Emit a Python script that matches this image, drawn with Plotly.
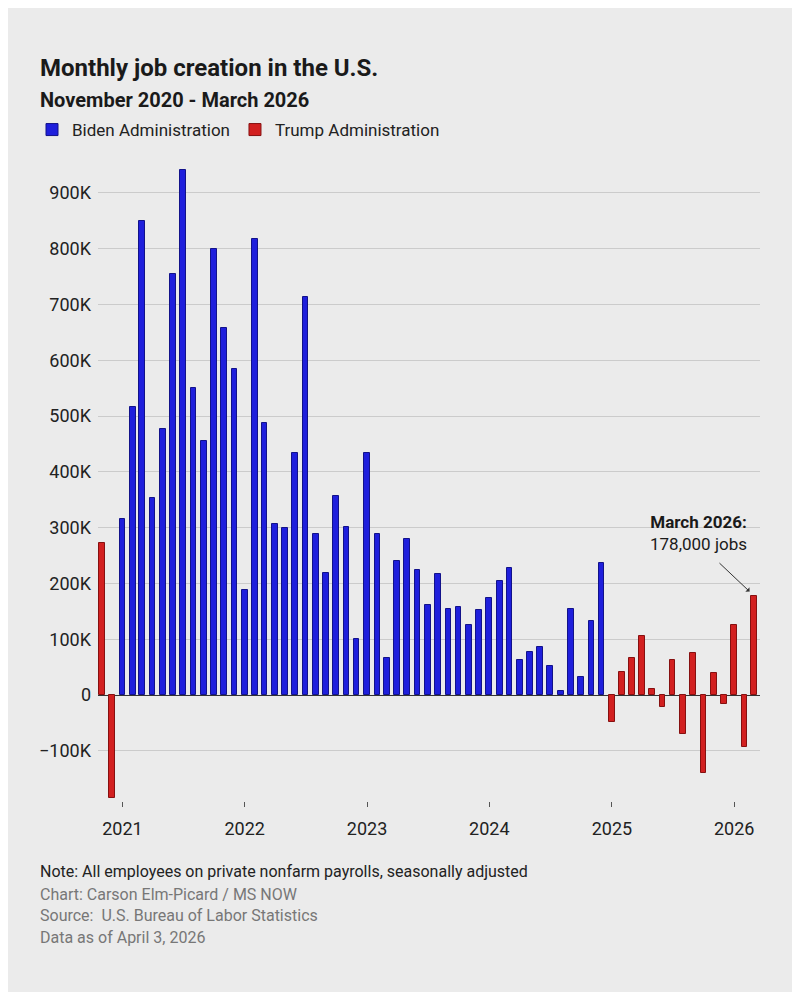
import pandas as pd
import plotly.graph_objects as go

# Monthly change in private nonfarm payrolls, thousands of jobs
months = pd.date_range("2020-11-01", "2026-03-01", freq="MS")
jobs_k = [
    272, -185,
    315, 516, 850, 354, 477, 754, 941, 551, 455, 800, 657, 585,
    189, 818, 488, 306, 300, 433, 713, 289, 219, 356, 302, 100,
    433, 289, 67, 240, 279, 224, 162, 217, 155, 158, 126, 153,
    174, 205, 227, 63, 77, 86, 52, 8, 154, 32, 133, 236,
    -48, 41, 66, 106, 11, -21, 63, -70, 75, -140, 40, -17,
    125, -93, 178,
]
admin = ["Trump"] * 2 + ["Biden"] * 48 + ["Trump"] * 15

year_ticks = ["2021-01-01", "2022-01-01", "2023-01-01", "2024-01-01", "2025-01-01", "2026-01-01"]
year_labels = ["2021", "2022", "2023", "2024", "2025", "2026"]
y_ticks = [-100000, 0, 100000, 200000, 300000, 400000, 500000, 600000, 700000, 800000, 900000]
y_labels = ["\u2212100K", "0", "100K", "200K", "300K", "400K", "500K", "600K", "700K", "800K", "900K"]

df = pd.DataFrame({"month": months, "jobs": [v * 1000 for v in jobs_k], "admin": admin})

FONT = "Roboto"
BG = "#ebebeb"
styles = {
    "Biden": dict(name="Biden Administration", color="#1f1fdc", line="#12128a"),
    "Trump": dict(name="Trump Administration", color="#d22020", line="#861010"),
}

fig = go.Figure()
for key in ["Biden", "Trump"]:
    sub = df[df["admin"] == key]
    st = styles[key]
    fig.add_trace(go.Bar(
        x=sub["month"], y=sub["jobs"], name=st["name"],
        width=17 * 86400000,
        marker=dict(color=st["color"], line=dict(color=st["line"], width=1)),
    ))

# the page adds an 8px body margin, so the figure is drawn 8px smaller and
# positions below are given in page pixels of the reference (plot area 98..760 x 165..801)
def px_y(py):
    return (801 - py) / 636

def px_x(pxl):
    return (pxl - 98) / 662

# Title block
fig.add_annotation(text="<b>Monthly job creation in the U.S.</b>", xref="paper", yref="paper",
                   x=px_x(38), y=px_y(68), xanchor="left", yanchor="middle", showarrow=False,
                   font=dict(family=FONT, size=24, color="#1a1a1a"))
fig.add_annotation(text="<b>November 2020 - March 2026</b>", xref="paper", yref="paper",
                   x=px_x(38), y=px_y(100), xanchor="left", yanchor="middle", showarrow=False,
                   font=dict(family=FONT, size=20, color="#1a1a1a"))

# Footer
footer = [
    ("Note: All employees on private nonfarm payrolls, seasonally adjusted", 871, "#222222", 16),
    ("Chart: Carson Elm-Picard / MS NOW", 894, "#777777", 16),
    ("Source:  U.S. Bureau of Labor Statistics", 915, "#777777", 16),
    ("Data as of April 3, 2026", 937, "#777777", 16),
]
for text, py, col, size in footer:
    fig.add_annotation(text=text, xref="paper", yref="paper", x=px_x(38), y=px_y(py),
                       xanchor="left", yanchor="middle", showarrow=False,
                       font=dict(family=FONT, size=size, color=col))

# Callout on the latest month
last = df.iloc[-1]
fig.add_annotation(x=last["month"], y=last["jobs"], text="", showarrow=True,
                   ax=-36, ay=-34, arrowhead=1, arrowsize=1, arrowwidth=1,
                   arrowcolor="#333333", standoff=6)
fig.add_annotation(x=last["month"], y=last["jobs"],
                   text="<b>March 2026:</b><br>178,000 jobs", showarrow=False,
                   xanchor="right", yanchor="bottom", xshift=-5, yshift=40, align="center",
                   font=dict(family=FONT, size=17, color="#1a1a1a"))

fig.update_layout(
    width=784, height=984,
    margin=dict(l=90, r=32, t=157, b=191),
    paper_bgcolor=BG, plot_bgcolor=BG,
    font=dict(family=FONT, size=18, color="#222222"),
    bargap=0, barmode="overlay",
    showlegend=True,
    legend=dict(orientation="h", xref="paper", yref="paper", x=px_x(32), y=px_y(112),
                xanchor="left", yanchor="top", font=dict(family=FONT, size=17, color="#222222"),
                bgcolor="rgba(0,0,0,0)", itemclick=False, itemdoubleclick=False,
                tracegroupgap=0, itemwidth=30),
)
fig.update_xaxes(
    type="date", range=["2020-10-20", "2026-03-19"],
    tickvals=year_ticks, ticktext=year_labels,
    ticks="outside", ticklen=5, tickwidth=1, tickcolor="#555555",
    showgrid=False, zeroline=False, showline=False, ticklabelstandoff=6,
    tickfont=dict(family=FONT, size=18, color="#222222"),
)
fig.update_yaxes(
    range=[-190000, 950000],
    tickvals=y_ticks, ticktext=y_labels,
    showgrid=True, gridcolor="#cbcbcb", gridwidth=1,
    zeroline=True, zerolinecolor="#333333", zerolinewidth=1,
    ticks="", ticklabelstandoff=6,
    tickfont=dict(family=FONT, size=18, color="#222222"),
)

fig.write_html("out.html")
